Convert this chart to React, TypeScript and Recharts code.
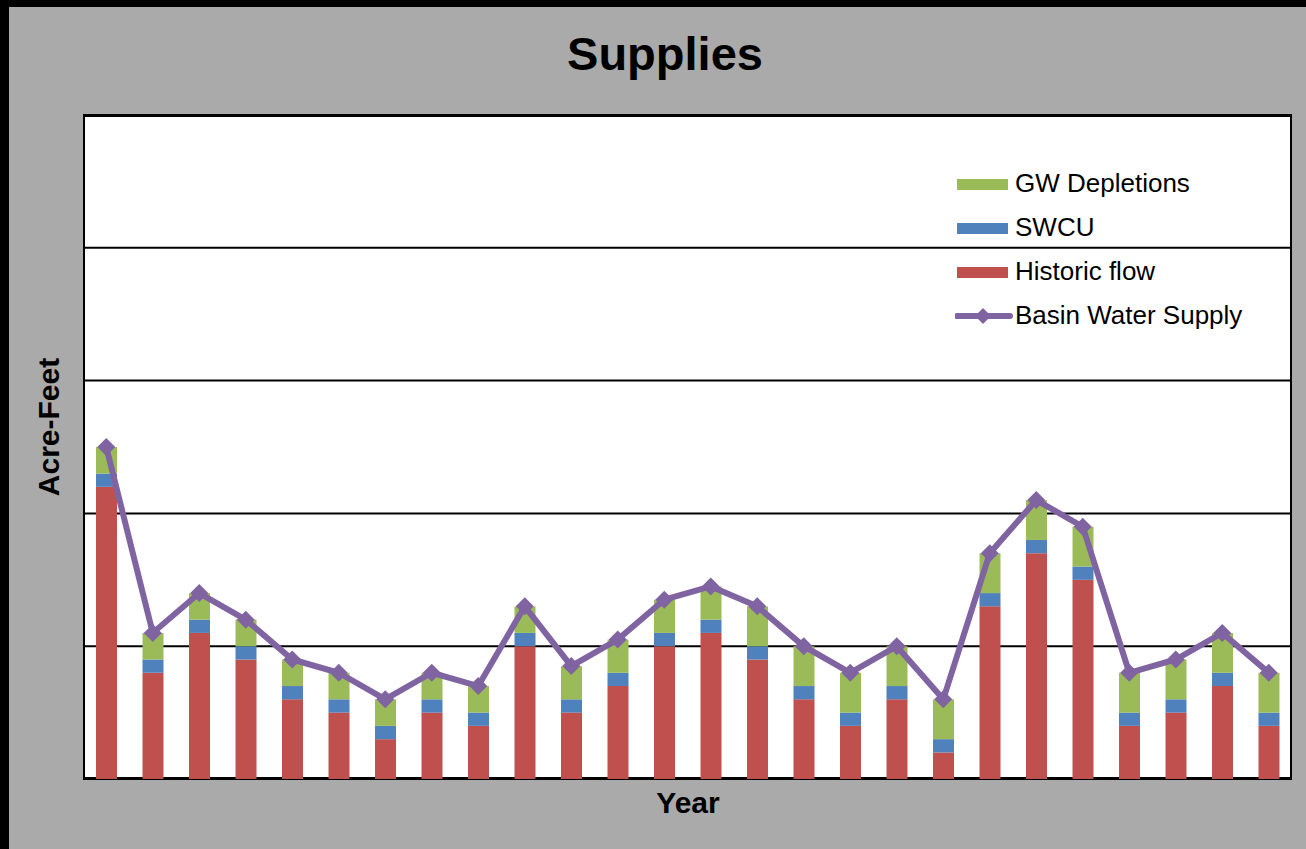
import { ComposedChart, Bar, Line, XAxis, YAxis, CartesianGrid } from "recharts";

const years = [
  "1982", "1983", "1984", "1985", "1986", "1987", "1988", "1989", "1990",
  "1991", "1992", "1993", "1994", "1995", "1996", "1997", "1998", "1999",
  "2000", "2001", "2002", "2003", "2004", "2005", "2006", "2007",
];
const historicFlow = [22, 8, 11, 9, 6, 5, 3, 5, 4, 10, 5, 7, 10, 11, 9, 6, 4, 6, 2, 13, 17, 15, 4, 5, 7, 4];
const swcu = [1, 1, 1, 1, 1, 1, 1, 1, 1, 1, 1, 1, 1, 1, 1, 1, 1, 1, 1, 1, 1, 1, 1, 1, 1, 1];
const gwDepletions = [2, 2, 2, 2, 2, 2, 2, 2, 2, 2, 2.5, 2.5, 2.5, 2.5, 3, 3, 3, 3, 3, 3, 3, 3, 3, 3, 3, 3];
const basinSupply = [25, 11, 14, 12, 9, 8, 6, 8, 7, 13, 8.5, 10.5, 13.5, 14.5, 13, 10, 8, 10, 6, 17, 21, 19, 8, 9, 11, 8];
const yTicks = [0, 10, 20, 30, 40, 50];

const RED = "#c0504d";
const BLUE = "#4f81bd";
const GREEN = "#9bbb59";
const PURPLE = "#8064a2";
const FONT = "'Liberation Sans', Arial, sans-serif";

const data = years.map((year, i) => ({
  year,
  historic: historicFlow[i],
  swcu: swcu[i],
  gw: gwDepletions[i],
  basin: basinSupply[i],
}));

const legendItems = [
  { label: "GW Depletions", color: GREEN, kind: "bar" },
  { label: "SWCU", color: BLUE, kind: "bar" },
  { label: "Historic flow", color: RED, kind: "bar" },
  { label: "Basin Water Supply", color: PURPLE, kind: "line" },
];

function Diamond(props: any) {
  const { cx, cy, index } = props;
  if (cx == null || cy == null) return <g key={index} />;
  const r = 9;
  return (
    <polygon
      key={index}
      points={`${cx},${cy - r} ${cx + r},${cy} ${cx},${cy + r} ${cx - r},${cy}`}
      fill={PURPLE}
    />
  );
}

export default function App() {
  return (
    <div style={{ position: "absolute", left: 0, top: 0, width: 1306, height: 849, background: "#000", overflow: "hidden" }}>
      <div style={{ position: "absolute", left: 9, top: 7, width: 1297, height: 842, background: "#aaaaaa" }} />
      <div
        style={{
          position: "absolute", left: 83, top: 115, width: 1209, height: 664,
          background: "#fff", border: "2px solid #000", boxSizing: "border-box",
        }}
      />
      <div
        style={{
          position: "absolute", left: 465, top: 30, width: 400, textAlign: "center",
          fontFamily: FONT, fontWeight: "bold", fontSize: 47, lineHeight: "47px", color: "#000",
        }}
      >
        Supplies
      </div>
      <div
        style={{
          position: "absolute", left: 588, top: 788, width: 200, textAlign: "center",
          fontFamily: FONT, fontWeight: "bold", fontSize: 30, lineHeight: "30px", color: "#000",
        }}
      >
        Year
      </div>
      <div
        style={{
          position: "absolute", left: -101, top: 412, width: 300, height: 30, textAlign: "center",
          fontFamily: FONT, fontWeight: "bold", fontSize: 30, lineHeight: "30px", color: "#000",
          transform: "rotate(-90deg)",
        }}
      >
        Acre-Feet
      </div>
      <div style={{ position: "absolute", left: 0, top: 0 }}>
        <ComposedChart
          width={1306}
          height={849}
          data={data}
          margin={{ top: 115, left: 83, right: 14, bottom: 70 }}
        >
          <CartesianGrid vertical={false} stroke="#000" strokeWidth={2} />
          <XAxis dataKey="year" hide />
          <YAxis hide domain={[0, 50]} ticks={yTicks} />
          <Bar dataKey="historic" stackId="s" fill={RED} barSize={21} isAnimationActive={false} />
          <Bar dataKey="swcu" stackId="s" fill={BLUE} barSize={21} isAnimationActive={false} />
          <Bar dataKey="gw" stackId="s" fill={GREEN} barSize={21} isAnimationActive={false} />
          <Line
            dataKey="basin"
            stroke={PURPLE}
            strokeWidth={6}
            dot={Diamond}
            activeDot={false}
            isAnimationActive={false}
          />
        </ComposedChart>
      </div>
      <div style={{ position: "absolute", left: 955, top: 161 }}>
        {legendItems.map((item) => (
          <div key={item.label} style={{ display: "flex", alignItems: "center", height: 44 }}>
            <svg width={58} height={20} style={{ display: "block" }}>
              {item.kind === "bar" ? (
                <rect x={2} y={6} width={51} height={11} fill={item.color} />
              ) : (
                <g>
                  <line x1={2} y1={11} x2={55} y2={11} stroke={item.color} strokeWidth={6} strokeLinecap="round" />
                  <polygon points="28,3 36,11 28,19 20,11" fill={item.color} />
                </g>
              )}
            </svg>
            <span style={{ marginLeft: 2, fontFamily: FONT, fontSize: 26, color: "#000", whiteSpace: "nowrap" }}>
              {item.label}
            </span>
          </div>
        ))}
      </div>
    </div>
  );
}
